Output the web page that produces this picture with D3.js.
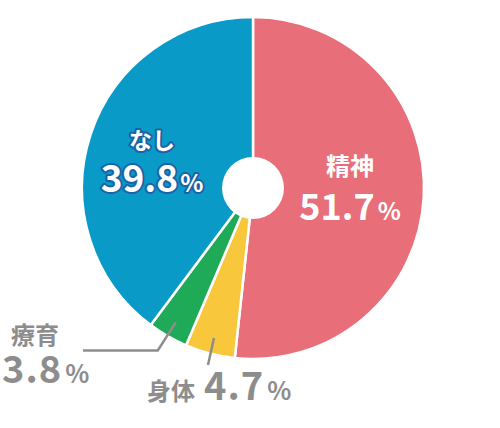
<!DOCTYPE html>
<html>
<head>
<meta charset="utf-8">
<script src="https://cdn.jsdelivr.net/npm/d3@7"></script>
<style>
  body { margin: 0; background: #fff; }
  text { font-family: "Noto Sans CJK JP", "Noto Sans", sans-serif; font-weight: bold; }
</style>
</head>
<body>
<div id="chart"></div>
<script>
// data
var categories = ["精神", "身体", "療育", "なし"];
var values = [51.7, 4.7, 3.8, 39.8];
var colors = ["#E86E79", "#F8C73B", "#1EAA57", "#0A9AC7"];

var width = 500, height = 428;
var cx = 253, cy = 188, outerR = 171, innerR = 31;

var svg = d3.select("#chart").append("svg")
    .attr("width", width)
    .attr("height", height);

var g = svg.append("g")
    .attr("transform", "translate(" + cx + "," + cy + ")");

var pie = d3.pie().sort(null).value(function(d){ return d; });
var arcs = pie(values);

var arc = d3.arc().innerRadius(0).outerRadius(outerR);

g.selectAll("path.slice")
  .data(arcs)
  .enter().append("path")
  .attr("class", "slice")
  .attr("d", arc)
  .attr("fill", function(d, i){ return colors[i]; })
  .attr("stroke", "#fff")
  .attr("stroke-width", 2.5)
  .attr("stroke-linejoin", "round");

// hole in the middle
g.append("circle").attr("r", innerR).attr("fill", "#fff");

//************************************************************
// labels inside the big slices
//************************************************************
function pct(v){ return v.toFixed(1); }

// 精神
var lab0 = g.append("g").attr("transform", "translate(97,0)");
lab0.append("text").attr("text-anchor", "middle").attr("y", -13)
  .attr("font-size", 24).attr("fill", "#fff").text(categories[0]);
var t0 = lab0.append("text").attr("text-anchor", "middle").attr("y", 32).attr("fill", "#fff");
t0.append("tspan").attr("font-size", 36).text(pct(values[0]));
t0.append("tspan").attr("font-size", 24).attr("dx", 3).text("%");

// なし (white with blue outline, stroke painted under the fill)
var lab3 = g.append("g").attr("transform", "translate(-101,0)");
lab3.append("text").attr("text-anchor", "middle").attr("y", -39)
  .attr("font-size", 23).attr("fill", "#fff")
  .attr("stroke", "#1B63A6").attr("stroke-width", 4).attr("stroke-linejoin", "round")
  .attr("paint-order", "stroke")
  .text(categories[3]);
var t3 = lab3.append("text").attr("text-anchor", "middle").attr("y", 4).attr("fill", "#fff")
  .attr("stroke", "#1B63A6").attr("stroke-width", 4).attr("stroke-linejoin", "round")
  .attr("paint-order", "stroke");
t3.append("tspan").attr("font-size", 37).text(pct(values[3]));
t3.append("tspan").attr("font-size", 24).attr("dx", 2).text("%");

//************************************************************
// leader lines and outside labels for the small slices
//************************************************************
var lineR = 155;
function onSlice(d){
  var a = (d.startAngle + d.endAngle) / 2;
  return [lineR * Math.sin(a), -lineR * Math.cos(a)];
}
var grey = "#8D8D8D";

// 療育
var p2 = onSlice(arcs[2]);
g.append("polyline")
  .attr("points", [p2, [p2[0] - 18, p2[1] + 28], [-170, p2[1] + 28]].map(function(p){ return p.join(","); }).join(" "))
  .attr("fill", "none").attr("stroke", grey).attr("stroke-width", 2.5);

// 身体
var p1 = onSlice(arcs[1]);
g.append("line")
  .attr("x1", p1[0]).attr("y1", p1[1])
  .attr("x2", p1[0] - 6).attr("y2", p1[1] + 27)
  .attr("stroke", grey).attr("stroke-width", 2.5);

svg.append("text").attr("x", 11).attr("y", 344)
  .attr("font-size", 24).attr("fill", grey).text(categories[2]);
var t2 = svg.append("text").attr("x", 2).attr("y", 383).attr("fill", grey);
t2.append("tspan").attr("font-size", 38).attr("letter-spacing", 1).text(pct(values[2]));
t2.append("tspan").attr("font-size", 25).attr("dx", 3).text("%");

var t1 = svg.append("text").attr("x", 147).attr("y", 400).attr("fill", grey);
t1.append("tspan").attr("font-size", 24).text(categories[1]);
t1.append("tspan").attr("font-size", 38).attr("dx", 9).attr("letter-spacing", 1).text(pct(values[1]));
t1.append("tspan").attr("font-size", 25).attr("dx", 3).text("%");
</script>
</body>
</html>
